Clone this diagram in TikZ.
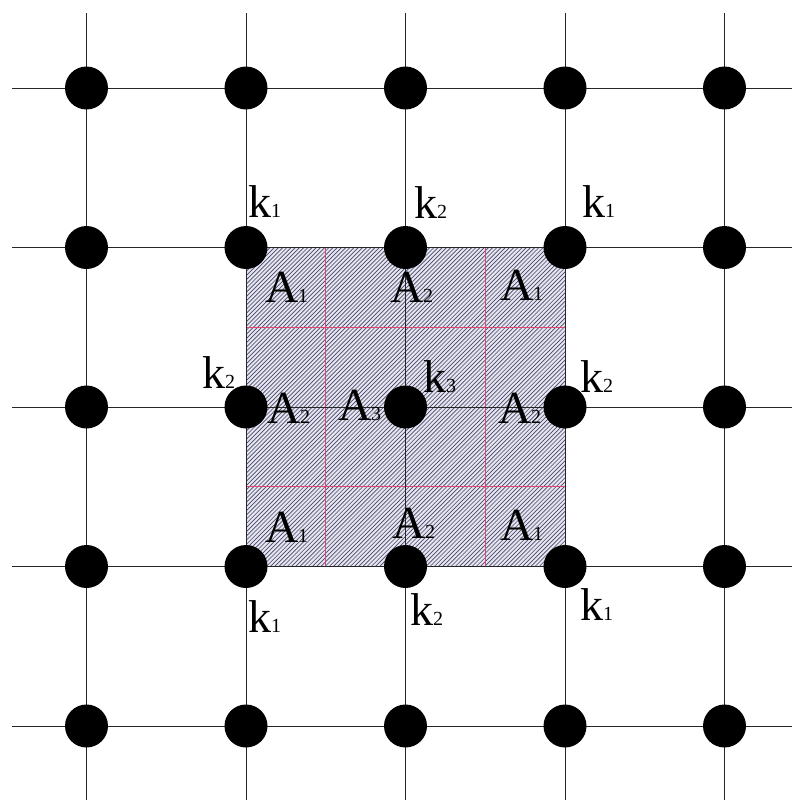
\documentclass[tikz,border=0pt]{standalone}
\usepackage{fontspec}
\setmainfont{Liberation Serif}
\definecolor{hatchbg}{RGB}{230,230,242}
\definecolor{hatchln}{RGB}{70,70,100}
\definecolor{redln}{RGB}{225,70,115}
\newcommand{\lbl}[2]{{\fontsize{46}{46}\selectfont #1}{\fontsize{20}{20}\selectfont #2}}
\tikzset{
  gridln/.style={black!85, line width=0.9pt},
  dot/.style={circle, fill=black, minimum size=43pt, inner sep=0pt},
  redl/.style={redln, line width=0.9pt},
  lab/.style={anchor=base west, inner sep=0pt, outer sep=0pt},
  hatchl/.style={hatchln, line width=0.65pt}
}
\begin{document}
\begin{tikzpicture}[x=1pt,y=-1pt]
\useasboundingbox (0,0) rectangle (792,800);
% shaded square
\fill[hatchbg] (246,247.5) rectangle (565,566.5);
\begin{scope}
  \clip (246,247.5) rectangle (565,566.5);
  \foreach \t in {-320,-315.8,...,322} \draw[hatchl] (246+\t,566.5) -- (565+\t,247.5);
\end{scope}
% red subdivision lines
\draw[redl] (325.75,247.5) -- (325.75,566.5);
\draw[redl] (485.25,247.5) -- (485.25,566.5);
\draw[redl] (246,327.25) -- (565,327.25);
\draw[redl] (246,486.75) -- (565,486.75);
% grid lines
\foreach \x in {86.5,246,405.5,565,724.5} \draw[gridln] (\x,13) -- (\x,800);
\foreach \y in {88,247.5,407,566.5,726} \draw[gridln] (12,\y) -- (792,\y);
% dots
\foreach \x [count=\i] in {86.5,246,405.5,565,724.5}
  \foreach \y [count=\j] in {88,247.5,407,566.5,726}
    \node[dot] (d\i\j) at (\x,\y) {};
% k labels
\node[lab] (k11) at (248,217) {\lbl{k}{1}};
\node[lab] (k21) at (414,218) {\lbl{k}{2}};
\node[lab] (k31) at (582,217) {\lbl{k}{1}};
\node[lab] (k12) at (202,388) {\lbl{k}{2}};
\node[lab] (k22) at (423,392) {\lbl{k}{3}};
\node[lab] (k32) at (580,392) {\lbl{k}{2}};
\node[lab] (k13) at (248,632) {\lbl{k}{1}};
\node[lab] (k23) at (410,625) {\lbl{k}{2}};
\node[lab] (k33) at (580,620) {\lbl{k}{1}};
% A labels
\node[lab] (a11) at (265,302) {\lbl{A}{1}};
\node[lab] (a21) at (390,302) {\lbl{A}{2}};
\node[lab] (a31) at (500,300) {\lbl{A}{1}};
\node[lab] (a12) at (267,423) {\lbl{A}{2}};
\node[lab] (a22) at (338,420) {\lbl{A}{3}};
\node[lab] (a32) at (498,423) {\lbl{A}{2}};
\node[lab] (a13) at (265,542) {\lbl{A}{1}};
\node[lab] (a23) at (392,538) {\lbl{A}{2}};
\node[lab] (a33) at (500,540) {\lbl{A}{1}};
\end{tikzpicture}
\end{document}
